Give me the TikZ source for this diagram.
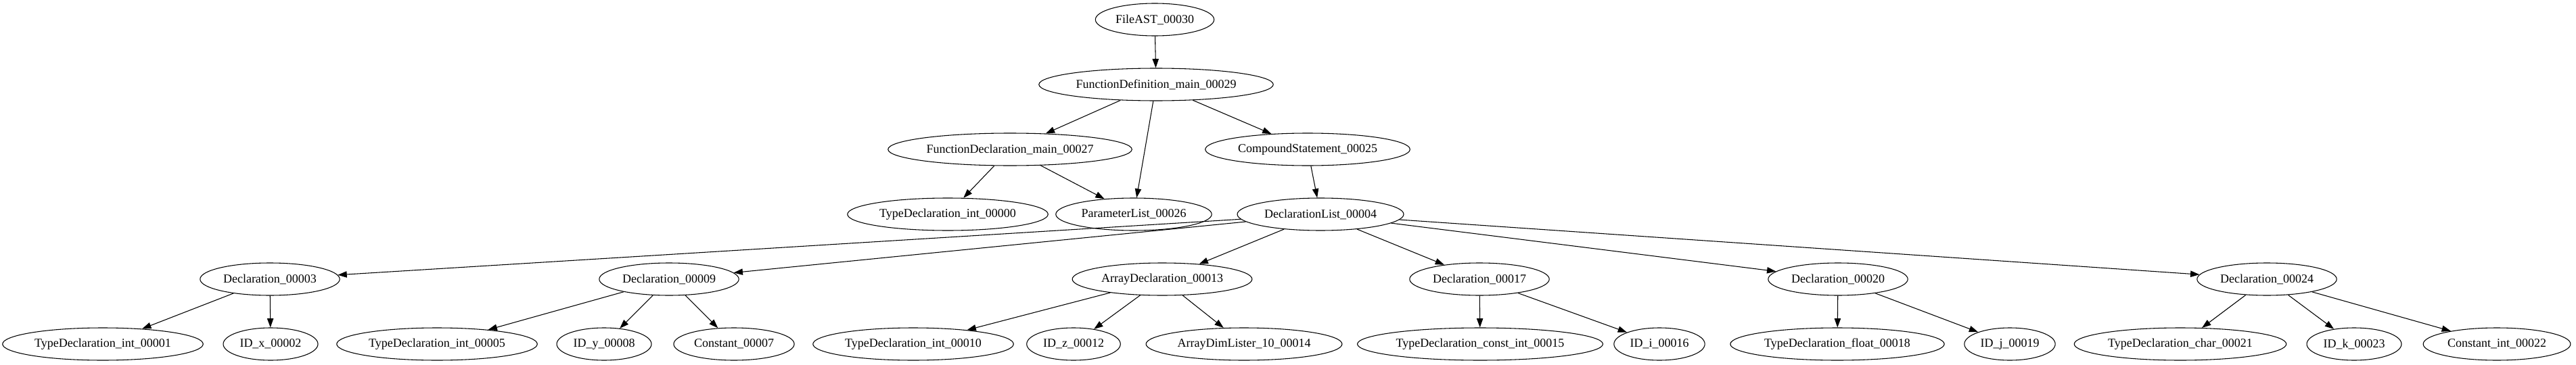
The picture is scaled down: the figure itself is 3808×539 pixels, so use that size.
\documentclass[tikz,border=0pt]{standalone}
\usepackage{fontspec}
\setmainfont{Liberation Serif}
\usepackage{tikz}
\usetikzlibrary{shapes.geometric,arrows.meta}

\begin{document}
\begin{tikzpicture}[x=0.75pt,y=-0.75pt]

    \tikzset{%
        astnode/.style={ellipse, draw, line width=0.8pt, inner xsep=3pt, inner ysep=1pt,
                minimum width=54pt, minimum height=36pt,
                font=\fontsize{13.5}{16}\selectfont},
        astedge/.style={line width=0.8pt, -{Triangle[length=10pt,width=7pt]}}
    }

    \useasboundingbox (0,0) rectangle (3808,539);

    % rank 0 to 3
    \node[astnode] (file30) at (1707,29) {FileAST\_00030};
    \node[astnode] (fundef29) at (1709,125) {FunctionDefinition\_main\_00029};
    \node[astnode] (fundecl27) at (1493,221) {FunctionDeclaration\_main\_00027};
    \node[astnode] (compound25) at (1933,221) {CompoundStatement\_00025};
    \node[astnode] (tdint0) at (1401,317) {TypeDeclaration\_int\_00000};
    \node[astnode] (params26) at (1676,317) {ParameterList\_00026};
    \node[astnode] (decllist4) at (1952,317) {DeclarationList\_00004};

    % declarations
    \node[astnode] (decl3) at (399,413) {Declaration\_00003};
    \node[astnode] (decl9) at (989,413) {Declaration\_00009};
    \node[astnode] (arrdecl13) at (1718,413) {ArrayDeclaration\_00013};
    \node[astnode] (decl17) at (2187,413) {Declaration\_00017};
    \node[astnode] (decl20) at (2717,413) {Declaration\_00020};
    \node[astnode] (decl24) at (3351,413) {Declaration\_00024};

    % leaves
    \node[astnode] (tdint1) at (152,509) {TypeDeclaration\_int\_00001};
    \node[astnode] (idx2) at (400,509) {ID\_x\_00002};
    \node[astnode] (tdint5) at (646,509) {TypeDeclaration\_int\_00005};
    \node[astnode] (idy8) at (893,509) {ID\_y\_00008};
    \node[astnode] (const7) at (1085,509) {Constant\_00007};
    \node[astnode] (tdint10) at (1350,509) {TypeDeclaration\_int\_00010};
    \node[astnode] (idz12) at (1587,509) {ID\_z\_00012};
    \node[astnode] (dims14) at (1839,509) {ArrayDimLister\_10\_00014};
    \node[astnode] (tdconst15) at (2188,509) {TypeDeclaration\_const\_int\_00015};
    \node[astnode] (idi16) at (2453,509) {ID\_i\_00016};
    \node[astnode] (tdfloat18) at (2716,509) {TypeDeclaration\_float\_00018};
    \node[astnode] (idj19) at (2971,509) {ID\_j\_00019};
    \node[astnode] (tdchar21) at (3223,509) {TypeDeclaration\_char\_00021};
    \node[astnode] (idk23) at (3480,509) {ID\_k\_00023};
    \node[astnode] (constint22) at (3691,509) {Constant\_int\_00022};

    \foreach \a/\b in {file30/fundef29, fundef29/fundecl27, fundef29/params26,
            fundef29/compound25, fundecl27/tdint0, fundecl27/params26,
            compound25/decllist4, decllist4/decl3, decllist4/decl9,
            decllist4/arrdecl13, decllist4/decl17, decllist4/decl20,
            decllist4/decl24, decl3/tdint1, decl3/idx2, decl9/tdint5,
            decl9/idy8, decl9/const7, arrdecl13/tdint10, arrdecl13/idz12,
            arrdecl13/dims14, decl17/tdconst15, decl17/idi16,
            decl20/tdfloat18, decl20/idj19, decl24/tdchar21,
            decl24/idk23, decl24/constint22} {%
            \draw[astedge] (\a) -- (\b);
        }

\end{tikzpicture}
\end{document}
